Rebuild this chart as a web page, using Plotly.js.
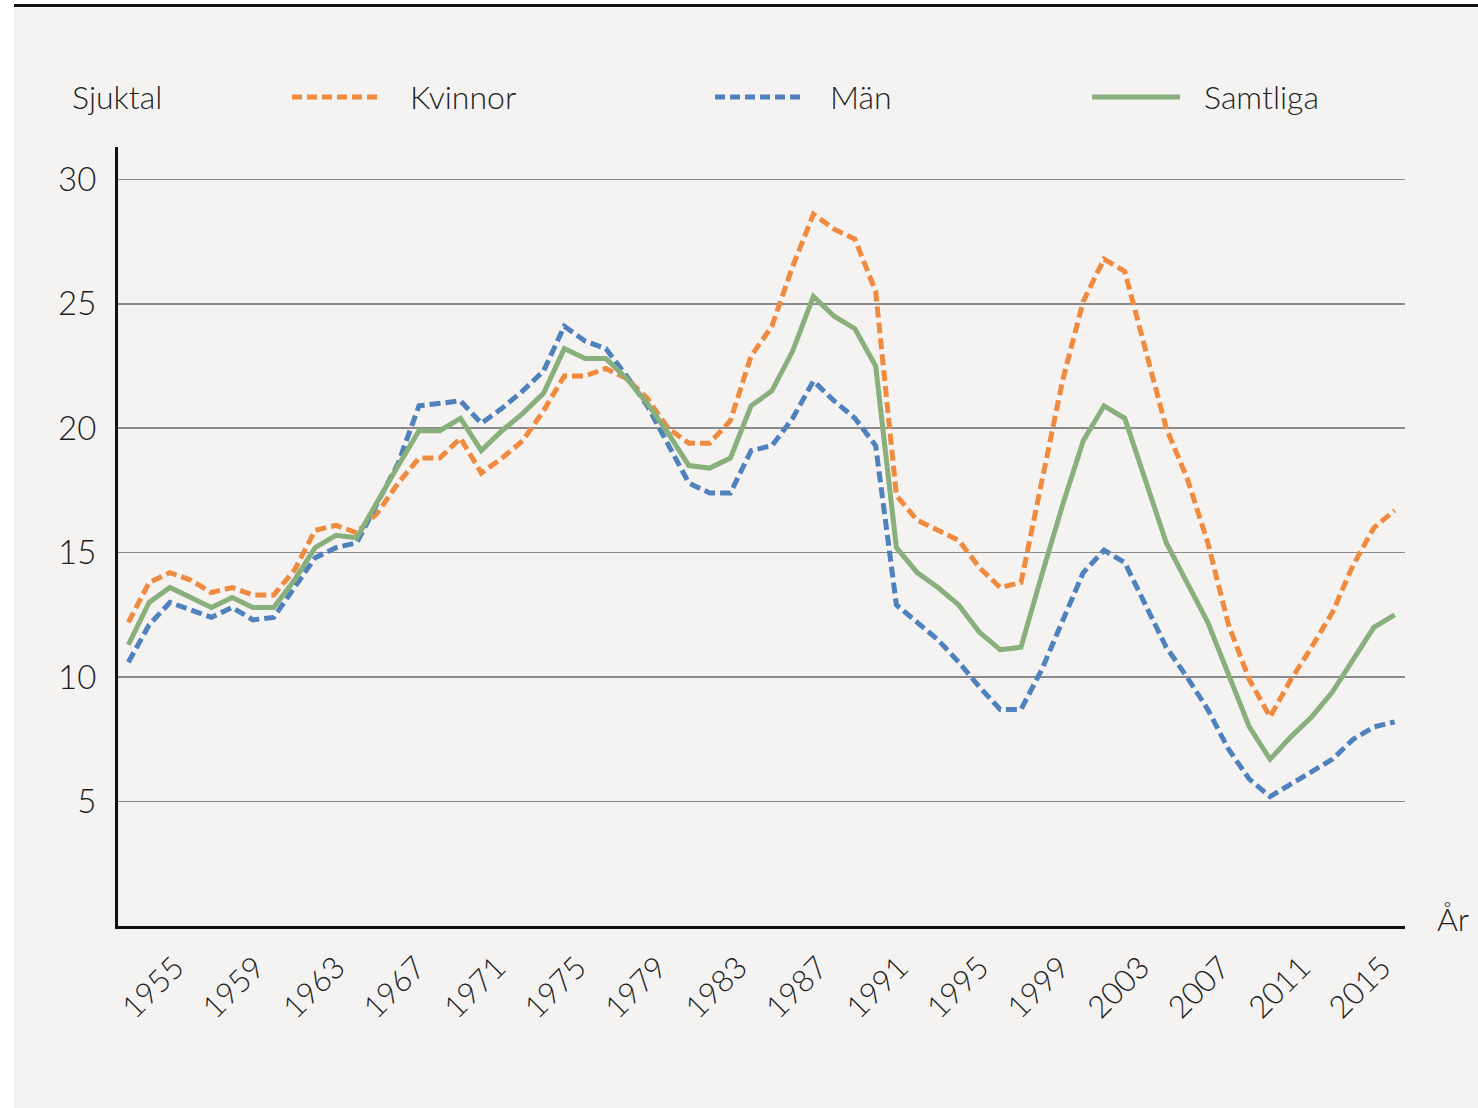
<!DOCTYPE html>
<html>
<head>
<meta charset="utf-8">
<script src="https://cdn.plot.ly/plotly-3.0.1.min.js"></script>
<style>
  html, body { margin: 0; padding: 0; background: #ffffff; width: 1478px; height: 1108px; overflow: hidden; }
  #topline { position: absolute; left: 14px; top: 4px; width: 1464px; height: 3px; background: #111111; }
  #chart { position: absolute; left: 14px; top: 8px; width: 1464px; height: 1100px; }
</style>
</head>
<body>
<div id="topline"></div>
<div id="chart"></div>
<script>
// ---- Data ----
const years = [1954,1955,1956,1957,1958,1959,1960,1961,1962,1963,1964,1965,1966,1967,1968,1969,1970,1971,1972,1973,
  1974,1975,1976,1977,1978,1979,1980,1981,1982,1983,1984,1985,1986,1987,1988,1989,1990,1991,1992,1993,
  1994,1995,1996,1997,1998,1999,2000,2001,2002,2003,2004,2005,2006,2007,2008,2009,2010,2011,2012,2013,2014,2015];

const kvinnor = [12.2,13.8,14.2,13.9,13.4,13.6,13.3,13.3,14.3,15.9,16.1,15.8,16.6,17.8,18.8,18.8,19.6,18.2,18.8,19.5,
  20.7,22.1,22.1,22.4,22.0,21.2,20.0,19.4,19.4,20.3,22.9,24.1,26.5,28.6,28.0,27.6,25.5,17.3,16.3,15.9,
  15.5,14.4,13.6,13.8,17.9,21.9,25.1,26.8,26.3,23.1,20.0,18.0,15.4,12.1,9.9,8.4,9.9,11.2,12.6,14.5,16.0,16.7];

const man = [10.6,12.1,13.0,12.7,12.4,12.8,12.3,12.4,13.6,14.8,15.2,15.4,17.0,18.6,20.9,21.0,21.1,20.2,20.8,21.5,
  22.3,24.1,23.5,23.2,22.1,20.9,19.4,17.8,17.4,17.4,19.1,19.3,20.4,21.9,21.1,20.4,19.3,12.9,12.2,11.5,
  10.6,9.6,8.7,8.7,10.3,12.3,14.2,15.1,14.6,12.9,11.2,10.0,8.7,7.1,5.9,5.2,5.7,6.2,6.7,7.5,8.0,8.2];

const samtliga = [11.3,13.0,13.6,13.2,12.8,13.2,12.8,12.8,13.9,15.2,15.7,15.6,17.1,18.5,19.9,19.9,20.4,19.1,19.9,20.6,
  21.4,23.2,22.8,22.8,22.0,21.0,19.8,18.5,18.4,18.8,20.9,21.5,23.1,25.3,24.5,24.0,22.5,15.2,14.2,13.6,
  12.9,11.8,11.1,11.2,14.1,16.9,19.5,20.9,20.4,17.9,15.4,13.8,12.2,10.1,8.0,6.7,7.6,8.4,9.4,10.7,12.0,12.5];

const tickYears = [1955,1959,1963,1967,1971,1975,1979,1983,1987,1991,1995,1999,2003,2007,2011,2015];
const yTicks = [5,10,15,20,25,30];

const seriesNames = ['Kvinnor', 'Män', 'Samtliga'];
const yTitle = 'Sjuktal';
const xTitle = 'År';

// ---- Styles ----
const C_ORANGE = '#F08A3E';
const C_BLUE = '#4F81BD';
const C_GREEN = '#88AF7C';
const FONT = 'Lato, "Open Sans", "DejaVu Sans", sans-serif';
const TEXT_COLOR = '#1e1e1e';
const BG = '#f4f3f1';
const DASH = '11px,5px';

const traces = [
  { x: years, y: kvinnor, name: seriesNames[0], type: 'scatter', mode: 'lines',
    line: { color: C_ORANGE, width: 5, dash: DASH } },
  { x: years, y: man, name: seriesNames[1], type: 'scatter', mode: 'lines',
    line: { color: C_BLUE, width: 5, dash: DASH } },
  { x: years, y: samtliga, name: seriesNames[2], type: 'scatter', mode: 'lines',
    line: { color: C_GREEN, width: 5 } },
  // carrier for the year tick labels axis
  { x: tickYears, y: tickYears.map(() => null), xaxis: 'x2', yaxis: 'y', type: 'scatter',
    mode: 'lines', showlegend: false, hoverinfo: 'skip' }
];

// legend placement (paper coords)
const LY = 1.0642;
const legendItems = [
  { x0: 0.1352, x1: 0.2051, tx: 0.2253, color: C_ORANGE, dash: '10px,5px', text: seriesNames[0] },
  { x0: 0.4639, x1: 0.5338, tx: 0.5517, color: C_BLUE, dash: '10px,5px', text: seriesNames[1] },
  { x0: 0.7568, x1: 0.8252, tx: 0.8423, color: C_GREEN, dash: 'solid', text: seriesNames[2] }
];

const shapes = legendItems.map(it => ({
  type: 'line', xref: 'paper', yref: 'paper', x0: it.x0, x1: it.x1, y0: LY, y1: LY,
  line: { color: it.color, width: 5, dash: it.dash }
}));

const annotations = legendItems.map(it => ({
  xref: 'paper', yref: 'paper', x: it.tx, y: LY, xanchor: 'left', yanchor: 'middle',
  text: it.text, showarrow: false, font: { family: FONT, size: 32, color: TEXT_COLOR, weight: 300 }
}));
annotations.push({
  xref: 'paper', yref: 'paper', x: -0.0373, y: LY, xanchor: 'left', yanchor: 'middle',
  text: yTitle, showarrow: false, font: { family: FONT, size: 32, color: TEXT_COLOR, weight: 300 }
});
annotations.push({
  xref: 'paper', yref: 'paper', x: 1.0373, y: 0.01, xanchor: 'center', yanchor: 'middle',
  text: xTitle, showarrow: false, font: { family: FONT, size: 32, color: TEXT_COLOR, weight: 300 }
});

const layout = {
  width: 1464, height: 1100,
  margin: { l: 104, r: 73, t: 139, b: 182 },
  paper_bgcolor: BG, plot_bgcolor: BG,
  showlegend: false,
  font: { family: FONT, color: TEXT_COLOR, weight: 300 },
  xaxis: {
    range: [1953.5, 2015.5], showgrid: false, zeroline: false,
    showline: true, linecolor: '#111111', linewidth: 3,
    showticklabels: false, ticks: ''
  },
  xaxis2: {
    overlaying: 'x', anchor: 'y', side: 'bottom',
    range: [1952.167, 2016.143], showgrid: false, zeroline: false, showline: false,
    tickmode: 'array', tickvals: tickYears, ticktext: tickYears.map(String),
    tickangle: -45, ticks: '', ticklabelstandoff: 16,
    tickfont: { family: FONT, size: 31, color: TEXT_COLOR, weight: 300 }
  },
  yaxis: {
    range: [0, 31.3], zeroline: false,
    showline: true, linecolor: '#111111', linewidth: 3,
    showgrid: true, gridcolor: '#8a8a8a', gridwidth: 1.5,
    tickmode: 'array', tickvals: yTicks, ticktext: yTicks.map(String),
    ticks: '', ticklabelstandoff: 12,
    tickfont: { family: FONT, size: 33, color: TEXT_COLOR, weight: 300 }
  },
  shapes: shapes,
  annotations: annotations
};

Plotly.newPlot('chart', traces, layout, { displayModeBar: false, staticPlot: true });
</script>
</body>
</html>
